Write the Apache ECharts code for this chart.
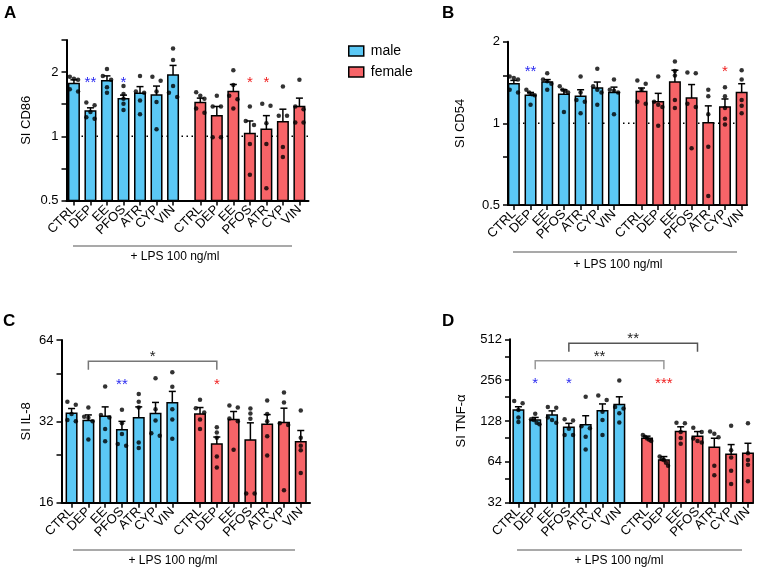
<!DOCTYPE html>
<html><head><meta charset="utf-8">
<script src="https://cdn.jsdelivr.net/npm/echarts@6/dist/echarts.min.js"></script>
<style>html,body{margin:0;padding:0;background:#fff}#c{width:758px;height:570px}</style>
</head><body><div id="c"></div>
<script>
// ---------- data ----------
const categories = ['CTRL','DEP','EE','PFOS','ATR','CYP','VIN'];
const groupLabel = '+ LPS 100 ng/ml';

// A: CD86
const cd86MaleMean = [1.77, 1.315, 1.82, 1.50, 1.59, 1.56, 1.94];
const cd86MaleSem  = [0.07, 0.045, 0.10, 0.06, 0.12, 0.16, 0.21];
const cd86MalePts  = [[1.90,1.86,1.84,1.66,1.62],[1.44,1.40,1.30,1.23,1.21],[2.07,1.92,1.84,1.70,1.60],[1.72,1.58,1.50,1.42,1.33],[1.92,1.62,1.60,1.47,1.27],[1.90,1.82,1.62,1.45,1.08],[2.58,2.28,1.72,1.60,1.53]];
const cd86FemaleMean = [1.44, 1.25, 1.62, 1.03, 1.08, 1.17, 1.38];
const cd86FemaleSem  = [0.07, 0.13, 0.13, 0.15, 0.17, 0.17, 0.13];
const cd86FemalePts  = [[1.61,1.55,1.50,1.35,1.29],[1.55,1.38,1.38,0.99,0.99],[2.04,1.74,1.55,1.49,1.35],[1.38,1.18,1.13,0.92,0.66],[1.42,1.39,1.15,0.92,0.57],[1.71,1.25,1.25,0.89,0.80],[1.84,1.38,1.34,1.16,1.16]];
const cd86MaleSig   = ['','**','','*','','',''];
const cd86FemaleSig = ['','','','*','*','',''];
const cd86Ticks = [0.5, 1, 2];

// B: CD54
const cd54MaleMean = [1.40,1.27,1.42,1.28,1.26,1.35,1.30];
const cd54MaleSem  = [0.04,0.03,0.03,0.05,0.07,0.07,0.06];
const cd54MalePts  = [[1.49,1.47,1.45,1.33,1.30],[1.33,1.30,1.28,1.27,1.17],[1.53,1.45,1.43,1.40,1.33],[1.37,1.33,1.32,1.30,1.10],[1.49,1.30,1.22,1.20,1.09],[1.59,1.37,1.33,1.30,1.17],[1.45,1.33,1.32,1.30,1.08]];
const cd54FemaleMean = [1.31,1.20,1.42,1.24,1.005,1.15,1.30];
const cd54FemaleSem  = [0.04,0.09,0.15,0.15,0.155,0.08,0.10];
const cd54FemalePts  = [[1.44,1.40,1.33,1.20,1.18],[1.49,1.20,1.17,1.15,0.98],[1.69,1.56,1.50,1.22,1.14],[1.54,1.53,1.18,1.15,0.81],[1.33,1.26,1.08,0.82,0.54],[1.36,1.26,1.14,1.04,0.99],[1.57,1.45,1.22,1.16,1.09]];
const cd54MaleSig   = ['','**','','','','',''];
const cd54FemaleSig = ['','','','','','*',''];
const cd54Ticks = [0.5, 1, 2];

// C: IL-8
const il8MaleMean = [34.3,32.2,33.4,29.8,33.0,34.2,37.5];
const il8MaleSem  = [1.4,1.6,2.8,2.2,3.2,3.4,3.8];
const il8MalePts  = [[37.8,36.9,34.1,32.4,32.0],[36.0,33.3,33.0,32.0,27.4],[43.1,33.8,33.1,30.0,27.0],[35.3,31.5,28.7,26.4,26.0],[40.4,37.8,36.0,26.7,25.5],[46.2,35.5,32.2,28.9,28.3],[48.6,43.0,35.5,32.5,27.6]];
const il8FemaleMean = [34.1,26.4,32.5,27.3,31.2,31.7,26.9];
const il8FemaleSem  = [1.9,1.6,2.3,4.3,2.7,4.1,2.7];
const il8FemalePts  = [[38.5,35.8,34.5,32.5,30.0],[30.4,29.1,27.8,23.7,21.6],[36.6,36.0,32.8,32.0,25.1],[35.7,34.2,32.7,17.3,17.3],[38.2,34.1,32.0,28.2,23.9],[40.9,37.6,31.5,31.0,17.8],[35.1,27.8,26.0,25.0,20.6]];
const il8MaleSig   = ['','','','**','','',''];
const il8FemaleSig = ['','*','','','','',''];
const il8Ticks = [16, 32, 64];
const il8Brackets = [{male:1, female:1, text:'*'}];

// D: TNF-α
const tnfMaleMean = [154,130,142,115,120,152,169];
const tnfMaleSem  = [9,6,10,8,20,19,24];
const tnfMalePts  = [[180,173,154,136,126],[145,132,130,124,121],[162,160,136,130,124],[132,129,112,101,101],[193,117,113,98,79],[197,183,150,130,101],[254,162,158,146,125]];
const tnfFemaleMean = [95.5,66,107,99,82,72.8,74];
const tnfFemaleSem  = [3.5,4,9,8,13.5,13,13.7];
const tnfFemalePts  = [[101,98,95,93,91],[70,67,66,63,60],[124,123,106,96,87],[114,106,95,91,89],[107,103,97,60,51],[118,78,69,55,44],[123,74,66,61,46]];
const tnfMaleSig   = ['','*','','*','','',''];
const tnfFemaleSig = ['','***','','','','',''];
const tnfTicks = [32, 64, 128, 256, 512];
const tnfBrackets = [{male:1, female:1, text:'**'}, {male:3, female:3, text:'**'}];

// ---------- layout / style ----------
const BLUE = '#5BC8F5', RED = '#F76468';
const STAR_BLUE = '#2B2BF0', STAR_RED = '#F02020';
const FONT = '"Liberation Sans", Arial, Helvetica, sans-serif';
const FEMALE_OFFSET = 7.65;
const maleX = categories.map((c, i) => i);
const femaleX = categories.map((c, i) => FEMALE_OFFSET + i);
const allX = maleX.concat(femaleX);

const panels = [
  {letter:'A', name:'SI CD86', grid:{left:66.5, top:40, width:242, height:160.5}, yMin:0.5, yMax:2*Math.SQRT2,
   ticks:cd86Ticks, minor:'geo', xMin:-0.45, xMax:14.2, nameGap:34, refLine:true, starLevel:1.855,
   mm:cd86MaleMean, ms:cd86MaleSem, mp:cd86MalePts, fm:cd86FemaleMean, fs:cd86FemaleSem, fp:cd86FemalePts,
   msig:cd86MaleSig, fsig:cd86FemaleSig, brackets:[], bracketLevels:[],
   lps:{x1:73, x2:292, y:246, tx:175, ty:257}, letterPos:{x:4, y:5}},
  {letter:'B', name:'SI CD54', grid:{left:508, top:41.7, width:239, height:163.3}, yMin:0.5, yMax:2,
   ticks:cd54Ticks, minor:'lin', xMin:-0.35, xMax:13.97, nameGap:41, refLine:true, starLevel:1.60,
   mm:cd54MaleMean, ms:cd54MaleSem, mp:cd54MalePts, fm:cd54FemaleMean, fs:cd54FemaleSem, fp:cd54FemalePts,
   msig:cd54MaleSig, fsig:cd54FemaleSig, brackets:[], bracketLevels:[],
   lps:{x1:513, x2:737, y:252, tx:618, ty:265}, letterPos:{x:442, y:5}},
  {letter:'C', name:'SI IL-8', grid:{left:61.5, top:340, width:248.5, height:162.7}, yMin:16, yMax:64,
   ticks:il8Ticks, minor:'lin', xMin:-0.6, xMax:14.2, nameGap:29, refLine:false, starLevel:45.3,
   mm:il8MaleMean, ms:il8MaleSem, mp:il8MalePts, fm:il8FemaleMean, fs:il8FemaleSem, fp:il8FemalePts,
   msig:il8MaleSig, fsig:il8FemaleSig, brackets:il8Brackets, bracketLevels:[53.4], bracketColors:['#777'],
   lps:{x1:73, x2:295, y:550, tx:173, ty:561}, letterPos:{x:3, y:313}},
  {letter:'D', name:'SI TNF-\u03b1', grid:{left:510, top:339.3, width:243, height:163.4}, yMin:32, yMax:512,
   ticks:tnfTicks, minor:'lin', xMin:-0.5, xMax:13.95, nameGap:42, refLine:false, starLevel:256,
   mm:tnfMaleMean, ms:tnfMaleSem, mp:tnfMalePts, fm:tnfFemaleMean, fs:tnfFemaleSem, fp:tnfFemalePts,
   msig:tnfMaleSig, fsig:tnfFemaleSig, brackets:tnfBrackets, bracketLevels:[356, 478], bracketColors:['#999','#555'],
   lps:{x1:517, x2:742, y:550, tx:619, ty:561}, letterPos:{x:442, y:313}}
];

function labelFor(v) {
  let best = -1, bd = 0.01;
  allX.forEach((p, i) => { const d = Math.abs(p - v); if (d < bd) { bd = d; best = i; } });
  return best < 0 ? ' ' : categories[best % categories.length];
}

function tickValues(cfg) {
  const out = [];
  cfg.ticks.forEach((t, i) => {
    out.push(t);
    if (i < cfg.ticks.length - 1) out.push(cfg.minor === 'geo' ? t * Math.SQRT2 : t * 1.5);
  });
  if (cfg.yMax > cfg.ticks[cfg.ticks.length - 1] * 1.0001) out.push(cfg.yMax);
  return out;
}

// spread overlapping dots horizontally
function jitter(vals, pxPerLog2) {
  const order = vals.map((v, i) => i).sort((a, b) => vals[b] - vals[a]);
  const offs = vals.map(() => 0);
  let cluster = [order[0]];
  const flush = () => {
    const n = cluster.length;
    cluster.forEach((k, j) => { offs[k] = n === 1 ? 0 : -0.25 + j * 0.5 / (n - 1); });
  };
  for (let k = 1; k < order.length; k++) {
    const prev = vals[cluster[cluster.length - 1]], cur = vals[order[k]];
    if (Math.log2(prev / cur) * pxPerLog2 < 4.5) cluster.push(order[k]);
    else { flush(); cluster = [order[k]]; }
  }
  flush();
  return offs;
}

const option = {
  animation: false,
  backgroundColor: '#fff',
  textStyle: {fontFamily: FONT},
  title: panels.map(p => ({text: p.letter, left: p.letterPos.x, top: p.letterPos.y, padding: 0,
    textStyle: {fontSize: 17, fontWeight: 'bold', color: '#000', fontFamily: FONT}})),
  legend: {
    data: ['male', 'female'], orient: 'vertical', left: 343, top: 39, itemWidth: 15, itemHeight: 10, itemGap: 7,
    icon: 'rect', itemStyle: {borderColor: '#000', borderWidth: 1.5},
    textStyle: {fontSize: 14, color: '#000', fontFamily: FONT, padding: [0, 0, 0, 2]}
  },
  grid: panels.map(p => Object.assign({containLabel: false, outerBoundsMode: 'none'}, p.grid)),
  xAxis: panels.map((p, i) => {
    // the two end values are blank placeholders so every category label is kept
    const vals = [p.xMin].concat(allX, [p.xMax]);
    return {
      gridIndex: i, type: 'value', min: p.xMin, max: p.xMax,
      axisLine: {show: true, onZero: false, lineStyle: {color: '#000', width: 2}},
      axisTick: {show: true, customValues: vals, length: 5, lineStyle: {color: '#000', width: 1.5}},
      axisLabel: {show: true, customValues: vals, rotate: 45, margin: 7, fontSize: 13, color: '#000', fontFamily: FONT,
        showMinLabel: false, showMaxLabel: false, hideOverlap: false, formatter: v => labelFor(v)},
      splitLine: {show: false}
    };
  }),
  yAxis: panels.map((p, i) => ({
    gridIndex: i, type: 'log', logBase: 2, min: p.yMin, max: p.yMax,
    name: p.name, nameLocation: 'middle', nameGap: p.nameGap,
    nameTextStyle: {fontSize: 13, color: '#000', fontFamily: FONT},
    axisLine: {show: true, onZero: false, lineStyle: {color: '#000', width: 2}},
    axisTick: {show: true, customValues: tickValues(p), length: 5, lineStyle: {color: '#000', width: 1.5}},
    axisLabel: {show: true, customValues: p.ticks, margin: 8, fontSize: 13, color: '#000', fontFamily: FONT,
      showMinLabel: true, showMaxLabel: true, formatter: v => String(+(+v).toPrecision(6))},
    splitLine: {show: false}, minorTick: {show: false}
  })),
  graphic: [],
  series: []
};

panels.forEach((p, i) => {
  const axes = {xAxisIndex: i, yAxisIndex: i};
  const pxPerLog2 = p.grid.height / Math.log2(p.yMax / p.yMin);

  if (p.refLine) {
    option.series.push(Object.assign({
      type: 'custom', z: 1, silent: true, data: [[0, 1]],
      encode: {x: 0, y: 1},
      renderItem: (params, api) => {
        const cs = params.coordSys;
        const y = api.coord([0, 1])[1];
        return {type: 'line', shape: {x1: cs.x, y1: y, x2: cs.x + cs.width, y2: y},
          style: {stroke: '#000', lineWidth: 1.5, lineDash: [1.5, 3.5]}};
      }
    }, axes));
  }

  const makeBars = (name, color, xs, means, sems) => Object.assign({
    type: 'custom', name: name, z: 2, silent: true,
    itemStyle: {color: color},
    data: xs.map((x, k) => [x, means[k], sems[k]]),
    encode: {x: 0, y: 1},
    renderItem: (params, api) => {
      const x = api.value(0), m = api.value(1), s = api.value(2);
      const base = api.coord([x, p.yMin]);
      const top = api.coord([x, m]);
      const et = api.coord([x, m + s]);
      const w = 10.5, cap = 7;
      return {type: 'group', children: [
        {type: 'rect', shape: {x: top[0] - w / 2, y: top[1], width: w, height: base[1] - top[1]},
          style: {fill: color, stroke: '#000', lineWidth: 1.5}},
        {type: 'line', shape: {x1: top[0], y1: top[1], x2: et[0], y2: et[1]}, style: {stroke: '#000', lineWidth: 1.5}},
        {type: 'line', shape: {x1: et[0] - cap / 2, y1: et[1], x2: et[0] + cap / 2, y2: et[1]}, style: {stroke: '#000', lineWidth: 1.5}}
      ]};
    }
  }, axes);
  option.series.push(makeBars('male', BLUE, maleX, p.mm, p.ms));
  option.series.push(makeBars('female', RED, femaleX, p.fm, p.fs));

  const dots = [];
  [[maleX, p.mp], [femaleX, p.fp]].forEach(([xs, pts]) => {
    pts.forEach((vals, k) => {
      const offs = jitter(vals, pxPerLog2);
      vals.forEach((v, j) => dots.push([xs[k] + offs[j], v]));
    });
  });
  option.series.push(Object.assign({
    type: 'scatter', z: 4, silent: true, symbolSize: 4.5, itemStyle: {color: '#000'}, data: dots
  }, axes));

  const stars = [];
  p.msig.forEach((s, k) => { if (s) stars.push({x: maleX[k], text: s, color: STAR_BLUE}); });
  p.fsig.forEach((s, k) => { if (s) stars.push({x: femaleX[k], text: s, color: STAR_RED}); });
  option.series.push(Object.assign({
    type: 'custom', z: 5, silent: true,
    data: stars.map(s => [s.x, p.starLevel]),
    encode: {x: 0, y: 1},
    renderItem: (params, api) => {
      const s = stars[params.dataIndex];
      const pt = api.coord([api.value(0), api.value(1)]);
      return {type: 'text', x: pt[0], y: pt[1] + 4,
        style: {text: s.text, fill: s.color, font: '15px ' + FONT, align: 'center', verticalAlign: 'middle'}};
    }
  }, axes));

  if (p.brackets.length) {
    option.series.push(Object.assign({
      type: 'custom', z: 5, silent: true,
      data: p.brackets.map((b, k) => [maleX[b.male], p.bracketLevels[k], femaleX[b.female]]),
      encode: {x: 0, y: 1},
      renderItem: (params, api) => {
        const b = p.brackets[params.dataIndex];
        const col = p.bracketColors[params.dataIndex];
        const a = api.coord([api.value(0), api.value(1)]);
        const c = api.coord([api.value(2), api.value(1)]);
        const leg = 8.5;
        return {type: 'group', children: [
          {type: 'polyline', shape: {points: [[a[0], a[1] + leg], [a[0], a[1]], [c[0], c[1]], [c[0], c[1] + leg]]},
            style: {stroke: col, lineWidth: 1.5, fill: null}},
          {type: 'text', x: (a[0] + c[0]) / 2, y: a[1] - 4,
            style: {text: b.text, fill: '#222', font: '15px ' + FONT, align: 'center', verticalAlign: 'middle'}}
        ]};
      }
    }, axes));
  }

  option.graphic.push({type: 'line', shape: {x1: p.lps.x1, y1: p.lps.y, x2: p.lps.x2, y2: p.lps.y},
    style: {stroke: '#8c8c8c', lineWidth: 1.5}, silent: true});
  option.graphic.push({type: 'text', x: p.lps.tx, y: p.lps.ty,
    style: {text: groupLabel, fill: '#000', font: '12px ' + FONT, align: 'center', verticalAlign: 'middle'}, silent: true});
});

const chart = echarts.init(document.getElementById('c'), null, {renderer: 'canvas'});
chart.setOption(option);
</script>
</body></html>
